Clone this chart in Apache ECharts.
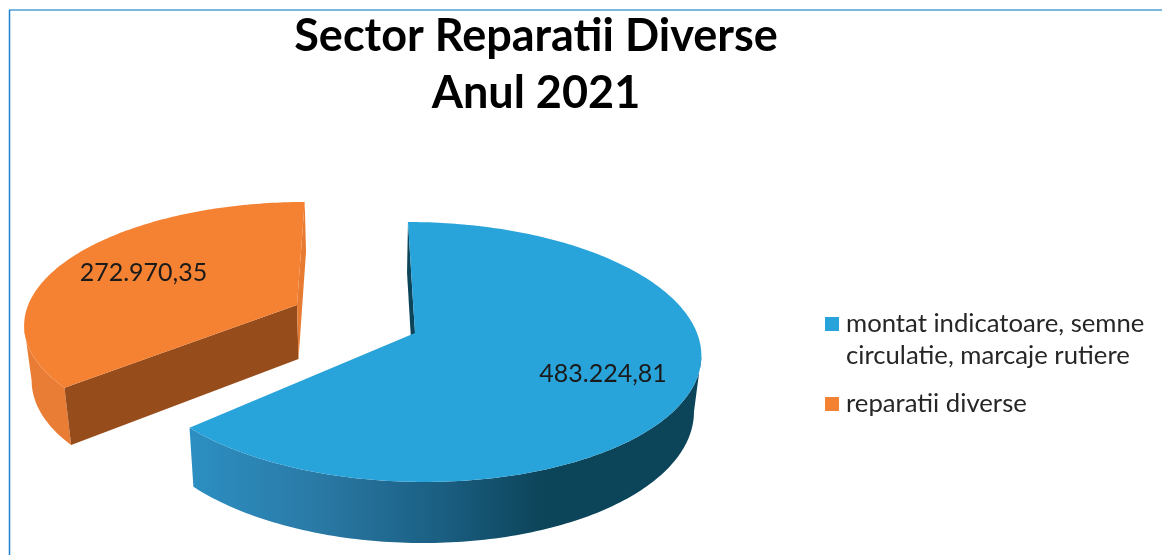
<!DOCTYPE html>
<html>
<head>
<meta charset="utf-8">
<style>
html,body{margin:0;padding:0;background:#fff}
#chart{width:1162px;height:555px}
</style>
<script src="https://cdn.jsdelivr.net/npm/echarts@6/dist/echarts.min.js"></script>
</head>
<body>
<div id="chart"></div>
<script>
let titleText = "Sector Reparatii Diverse\nAnul 2021";
let categories = ["montat indicatoare, semne\ncirculatie, marcaje rutiere", "reparatii diverse"];
let values = [483224.81, 272970.35];
let valueLabels = ["483.224,81", "272.970,35"];
let colors = ["#29a4db", "#f58233"];

// projection of the tilted pie, k gives the perspective
let x0 = 360, y0 = 333, A = 282, B = 127.2, k = 0.146;
// centre of every exploded slice in pie units, its radius, and a small trim of its last edge
let centers = [[0.195, 0], [-0.2308, 0.2274]];
let radius = [1, 0.985];
let trim = [2.3, 0];
let labelRadius = [0.695, 0.655];
let labelDrop = [2, 0];
let total = values.reduce((a, b) => a + b, 0);

function top3d(U, V) {
    let w = 1 + k * V;
    return [x0 + A * U / w, y0 - B * V / w];
}
function down(p) {
    let d = 54 + (p[1] - 305) * 0.04;
    return [365 + (p[0] - 365) * 0.978, p[1] + d];
}
function rim(c, r, deg) {
    let t = deg * Math.PI / 180;
    return top3d(c[0] + r * Math.sin(t), c[1] + r * Math.cos(t));
}
function arc(c, r, a1, a2) {
    let pts = [];
    for (let a = a1; a < a2; a += 1) pts.push(rim(c, r, a));
    pts.push(rim(c, r, a2));
    return pts;
}
function poly(points, fill, z2) {
    return {type: 'polygon', z2: z2, shape: {points: points}, style: {fill: fill}};
}

function renderSlice(params, api) {
    let i = params.dataIndex;
    let start = 0;
    for (let n = 0; n < i; n++) start += values[n] / total * 360;
    let end = start + api.value(0) / total * 360;
    let c = centers[i], r = radius[i];
    let apex = top3d(c[0], c[1]);
    let edge = arc(c, r, start, end - trim[i]);
    let first = edge[0], last = edge[edge.length - 1];
    let wallFill = i == 0
        ? new echarts.graphic.LinearGradient(190, 0, 545, 0, [
            {offset: 0, color: '#2c8fc2'},
            {offset: 0.35, color: '#2a7aa6'},
            {offset: 0.7, color: '#1b5f83'},
            {offset: 1, color: '#0c4459'}], true)
        : '#ea7d35';
    // only the front of the rim shows: from the side extreme to the cut corner
    let xs = edge.map((p) => p[0]);
    let side = i == 0 ? xs.indexOf(Math.max(...xs)) : xs.indexOf(Math.min(...xs));
    let front = i == 0 ? edge.slice(side) : edge.slice(0, side + 1);
    let wall = front.concat(front.map(down).reverse());
    let faceStart = [first, down(first), down(apex), apex];
    let faceEnd = [last, down(last), down(apex), apex];
    let t = (start + end) / 2 * Math.PI / 180;
    let label = top3d(c[0] + labelRadius[i] * Math.sin(t), c[1] + labelRadius[i] * Math.cos(t));
    // blue only shows its first cut face, orange shows both
    let faces = i == 0
        ? [poly(faceStart, '#0c4459', 2)]
        : [poly(faceStart, '#964c1b', 2), poly(faceEnd, '#e87b32', 2)];
    return {
        type: 'group',
        children: [poly(wall, wallFill, 1)].concat(faces, [
            poly(edge.concat([apex]), colors[i], 3),
            {
                type: 'text', z2: 4, x: label[0], y: label[1] + labelDrop[i],
                style: {
                    text: valueLabels[i], fill: '#1a1a1a', align: 'center', verticalAlign: 'middle',
                    font: '25px Lato'
                }
            }
        ])
    };
}

let legendTop = [317, 397];
let legendItems = [];
categories.forEach((name, i) => {
    legendItems.push({
        type: 'rect', shape: {x: 825, y: legendTop[i], width: 14, height: 14}, style: {fill: colors[i]}
    });
    legendItems.push({
        type: 'text', x: 846, y: legendTop[i] - 9,
        style: {text: name, fill: '#262626', font: '25.7px Lato', lineHeight: 32}
    });
});

let myChart = echarts.init(document.getElementById('chart'));
let option = {
    animation: false,
    backgroundColor: '#fff',
    title: {
        text: titleText,
        left: 531,
        top: 3,
        textAlign: 'center',
        textStyle: {fontFamily: 'Lato', fontWeight: 'bold', fontSize: 45, lineHeight: 57, color: '#000'}
    },
    series: [{
        type: 'custom',
        coordinateSystem: 'none',
        renderItem: renderSlice,
        data: values.map((v, i) => ({name: categories[i], value: [v]}))
    }],
    graphic: legendItems.concat([
        {type: 'line', shape: {x1: 9, y1: 10, x2: 1162, y2: 10}, style: {stroke: '#7ab8e0', lineWidth: 2}},
        {type: 'line', shape: {x1: 9.5, y1: 10, x2: 9.5, y2: 555}, style: {stroke: '#1f80d0', lineWidth: 1.5}}
    ])
};
myChart.setOption(option);
</script>
</body>
</html>
